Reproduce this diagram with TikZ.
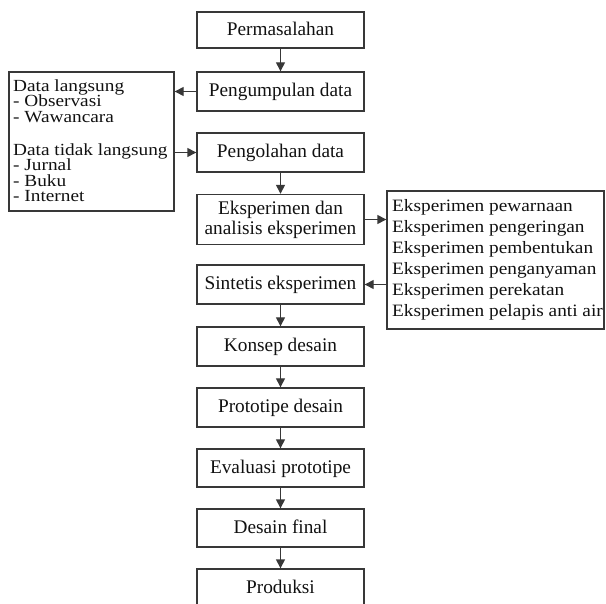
\documentclass[tikz,border=0pt]{standalone}
\usepackage{fontspec}
\setmainfont{Liberation Serif}
\usetikzlibrary{arrows.meta}
\definecolor{ln}{HTML}{383838}
\definecolor{tx}{HTML}{111111}
\begin{document}
\begin{tikzpicture}[x=1pt,y=-1pt,
  mainbox/.style={draw=ln, line width=1.4pt, minimum width=167pt, minimum height=#1,
    inner sep=0pt, text=tx, font=\fontsize{19.3}{20}\selectfont, align=center},
  onel/.style={text height=13.5pt, text depth=3pt},
  sidebox/.style={draw=ln, line width=1.4pt, inner sep=0pt},
  sidetxt/.style={anchor=base west, inner sep=0pt, text=tx, font=\fontsize{19.3}{20}\selectfont},
  arr/.style={draw=ln, line width=1.4pt, -{Triangle[length=9pt,width=9pt]}}
]
\useasboundingbox (0,0) rectangle (606,604);
% main column
\node[mainbox=36pt,onel] (p1) at (280.5,30) {Permasalahan};
\node[mainbox=39pt,onel] (p2) at (280.5,91.5) {Pengumpulan data};
\node[mainbox=39pt,onel] (p3) at (280.5,152.5) {Pengolahan data};
\node[mainbox=50pt] (p4) at (280.5,219.5) {Eksperimen dan\\analisis eksperimen};
\node[mainbox=39pt,onel] (p5) at (280.5,284.5) {Sintetis eksperimen};
\node[mainbox=39pt,onel] (p6) at (280.5,346.5) {Konsep desain};
\node[mainbox=39pt,onel] (p7) at (280.5,407.5) {Prototipe desain};
\node[mainbox=38pt,onel] (p8) at (280.5,468) {Evaluasi prototipe};
\node[mainbox=38pt,onel] (p9) at (280.5,528) {Desain final};
\node[mainbox=39pt,onel] (p10) at (280.5,588.5) {Produksi};
% left box
\node[sidebox, minimum width=165pt, minimum height=139pt] (lbox) at (91.5,141.5) {};
\node[sidetxt] (l1) at (13,91.5) {\scalebox{1}[0.88]{Data langsung}};
\node[sidetxt] (l2) at (13,107) {\scalebox{1}[0.88]{- Observasi}};
\node[sidetxt] (l3) at (13,122.5) {\scalebox{1}[0.88]{- Wawancara}};
\node[sidetxt] (l4) at (13,155.5) {\scalebox{1}[0.88]{Data tidak langsung}};
\node[sidetxt] (l5) at (13,171) {\scalebox{1}[0.88]{- Jurnal}};
\node[sidetxt] (l6) at (13,186.5) {\scalebox{1}[0.88]{- Buku}};
\node[sidetxt] (l7) at (13,202) {\scalebox{1}[0.88]{- Internet}};
% right box
\node[sidebox, minimum width=217pt, minimum height=138pt] (rbox) at (495.5,260) {};
\node[sidetxt] (r1) at (392,211.5) {\scalebox{1}[0.9]{Eksperimen pewarnaan}};
\node[sidetxt] (r2) at (392,232.5) {\scalebox{1}[0.9]{Eksperimen pengeringan}};
\node[sidetxt] (r3) at (392,253.5) {\scalebox{1}[0.9]{Eksperimen pembentukan}};
\node[sidetxt] (r4) at (392,274.5) {\scalebox{1}[0.9]{Eksperimen penganyaman}};
\node[sidetxt] (r5) at (392,295.5) {\scalebox{1}[0.9]{Eksperimen perekatan}};
\node[sidetxt] (r6) at (392,316.5) {\scalebox{1}[0.9]{Eksperimen pelapis anti air}};
% arrows
\draw[arr] (p1) -- (p2);
\draw[arr] (p3) -- (p4);
\draw[arr] (p5) -- (p6);
\draw[arr] (p6) -- (p7);
\draw[arr] (p7) -- (p8);
\draw[arr] (p8) -- (p9);
\draw[arr] (p9) -- (p10);
\draw[arr] (p2.west) -- (p2.west -| lbox.east);
\draw[arr] (p3.west -| lbox.east) -- (p3.west);
\draw[arr] (p4.east) -- (p4.east -| rbox.west);
\draw[arr] (p5.east -| rbox.west) -- (p5.east);
\end{tikzpicture}
\end{document}
